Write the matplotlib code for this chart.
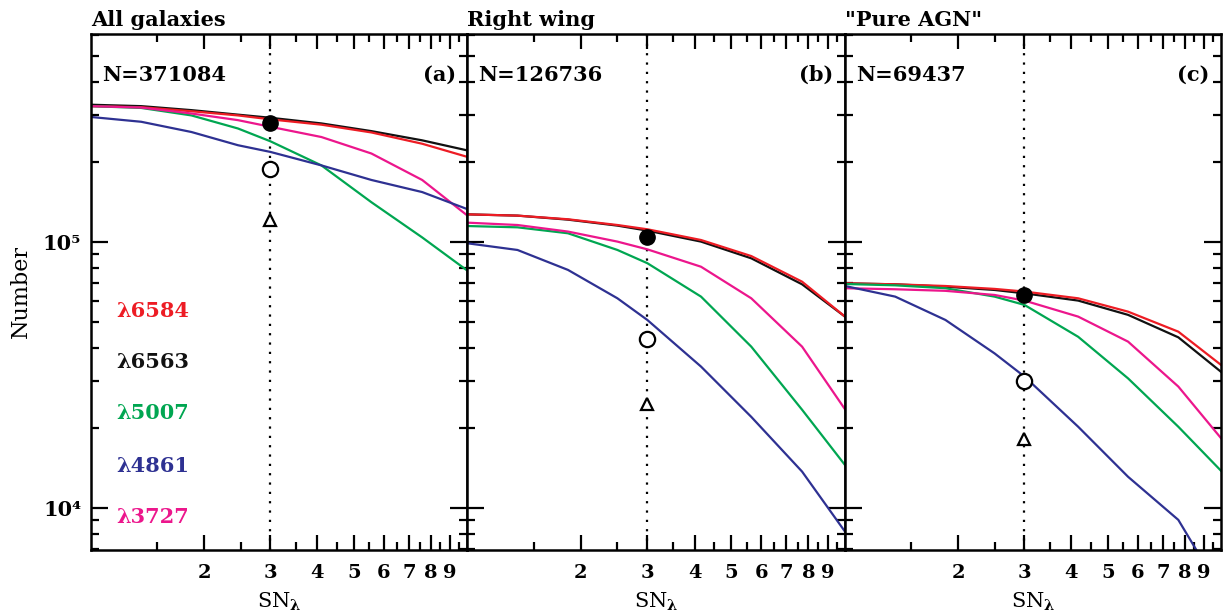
import numpy as np
import matplotlib
matplotlib.use("Agg")
import matplotlib.pyplot as plt
from matplotlib.ticker import FixedLocator, FixedFormatter, NullFormatter

plt.rcParams["font.family"] = ["DejaVu Serif"]
plt.rcParams["font.weight"] = "bold"
plt.rcParams["mathtext.fontset"] = "custom"
plt.rcParams["mathtext.rm"] = "DejaVu Serif:bold"
plt.rcParams["mathtext.it"] = "DejaVu Serif:bold"
plt.rcParams["mathtext.bf"] = "DejaVu Serif:bold"

# === Data === #
lines = ["λ6584", "λ6563", "λ5007", "λ4861", "λ3727"]
colors = ["#ed1c24", "#111111", "#00a651", "#2e3192", "#ec168c"]

titles = ["All galaxies", "Right wing", "\"Pure AGN\""]
counts = ["N=371084", "N=126736", "N=69437"]
tags = ["(a)", "(b)", "(c)"]

# panel (a)
xa = [1.0, 1.36, 1.85, 2.46, 3.0, 4.1, 5.57, 7.6, 10.0]
a_6584 = [3.24e5, 3.21e5, 3.10e5, 2.99e5, 2.89e5, 2.76e5, 2.58e5, 2.34e5, 2.09e5]
a_6563 = [3.28e5, 3.24e5, 3.13e5, 3.01e5, 2.93e5, 2.79e5, 2.61e5, 2.41e5, 2.21e5]
a_5007 = [3.24e5, 3.19e5, 2.99e5, 2.67e5, 2.39e5, 1.94e5, 1.41e5, 1.04e5, 7.82e4]
a_4861 = [2.95e5, 2.83e5, 2.59e5, 2.31e5, 2.18e5, 1.94e5, 1.71e5, 1.54e5, 1.33e5]
a_3727 = [3.24e5, 3.20e5, 3.04e5, 2.87e5, 2.71e5, 2.48e5, 2.15e5, 1.71e5, 1.26e5]

# panel (b)
xb = [1.0, 1.36, 1.85, 2.5, 3.0, 4.16, 5.65, 7.7, 10.0]
b_6584 = [1.27e5, 1.256e5, 1.217e5, 1.158e5, 1.116e5, 1.017e5, 8.85e4, 7.09e4, 5.24e4]
b_6563 = [1.27e5, 1.256e5, 1.213e5, 1.152e5, 1.103e5, 1.003e5, 8.68e4, 6.93e4, 5.24e4]
b_5007 = [1.148e5, 1.135e5, 1.078e5, 9.33e4, 8.32e4, 6.23e4, 4.04e4, 2.34e4, 1.45e4]
b_4861 = [9.89e4, 9.33e4, 7.85e4, 6.14e4, 5.09e4, 3.40e4, 2.20e4, 1.37e4, 8.15e3]
b_3727 = [1.182e5, 1.158e5, 1.094e5, 1.003e5, 9.38e4, 8.07e4, 6.14e4, 4.04e4, 2.35e4]

# panel (c)
xc = [1.0, 1.36, 1.85, 2.5, 3.0, 4.17, 5.66, 7.7, 10.0]
c_6584 = [6.99e4, 6.93e4, 6.83e4, 6.66e4, 6.51e4, 6.14e4, 5.47e4, 4.60e4, 3.45e4]
c_6563 = [6.99e4, 6.93e4, 6.79e4, 6.60e4, 6.41e4, 6.02e4, 5.32e4, 4.38e4, 3.25e4]
c_5007 = [6.95e4, 6.87e4, 6.70e4, 6.23e4, 5.80e4, 4.40e4, 3.07e4, 2.02e4, 1.38e4]
c_3727 = [6.70e4, 6.64e4, 6.55e4, 6.32e4, 6.02e4, 5.24e4, 4.22e4, 2.86e4, 1.83e4]
# blue curve leaves the frame at the bottom near SN ~ 8.6
xc_4861 = [1.0, 1.36, 1.85, 2.5, 3.0, 4.17, 5.66, 7.7, 8.6]
c_4861 = [6.83e4, 6.23e4, 5.09e4, 3.81e4, 3.12e4, 2.02e4, 1.31e4, 9.02e3, 6.95e3]

# markers at SN = 3 : filled circle, open circle, triangle
sn_cut = 3.0
filled = [2.79e5, 1.047e5, 6.32e4]
opened = [1.88e5, 4.32e4, 2.99e4]
tri = [1.21e5, 2.45e4, 1.81e4]

xs = [
    [xa] * 5,
    [xb] * 5,
    [xc, xc, xc, xc_4861, xc],
]
series = [
    [a_6584, a_6563, a_5007, a_4861, a_3727],
    [b_6584, b_6563, b_5007, b_4861, b_3727],
    [c_6584, c_6563, c_5007, c_4861, c_3727],
]

# === Plot === #
fig = plt.figure(figsize=(12.23, 6.16), dpi=100)
W, H = 1223.0, 616.0
lefts = [91, 467, 845]
widths = [376, 378, 376]
bottom, top = 550, 34

for i in range(3):
    ax = fig.add_axes([lefts[i] / W, 1 - bottom / H, widths[i] / W, (bottom - top) / H])
    ax.set_xscale("log")
    ax.set_yscale("log")
    ax.set_xlim(1.0, 10.0)
    ax.set_ylim(6950, 6.05e5)

    ax.axvline(sn_cut, color="black", lw=1.6, ls=(0, (1, 3.2)), zorder=1)

    # draw order: black first, red on top, as in the figure
    order = [1, 0, 2, 4, 3]
    for k in order:
        ax.plot(xs[i][k], series[i][k], color=colors[k], lw=1.6, zorder=2)

    ax.plot(sn_cut, filled[i], "o", ms=11, color="black", zorder=4)
    ax.plot(sn_cut, opened[i], "o", ms=11, mfc="white", mec="black", mew=1.6, zorder=4)
    ax.plot(sn_cut, tri[i], "^", ms=9, mfc="white", mec="black", mew=1.6, zorder=4)

    # ticks
    ax.xaxis.set_major_locator(FixedLocator([2, 3, 4, 5, 6, 7, 8, 9]))
    ax.xaxis.set_minor_locator(FixedLocator([1.5, 2.5, 3.5, 4.5, 5.5, 6.5, 7.5, 8.5, 9.5]))
    ax.xaxis.set_major_formatter(FixedFormatter(["2", "3", "4", "5", "6", "7", "8", "9"]))
    ax.xaxis.set_minor_formatter(NullFormatter())
    ax.yaxis.set_major_locator(FixedLocator([1e4, 1e5]))
    ax.yaxis.set_minor_locator(FixedLocator([m * d for d in (1e3, 1e4, 1e5) for m in range(2, 10)]))
    ax.yaxis.set_minor_formatter(NullFormatter())
    if i == 0:
        ax.yaxis.set_major_formatter(FixedFormatter(["10⁴", "10⁵"]))
    else:
        ax.yaxis.set_major_formatter(NullFormatter())

    ax.tick_params(which="both", direction="in", top=True, right=True, width=1.6, colors="black")
    ax.tick_params(which="major", length=11, labelsize=14, pad=10)
    ax.tick_params(which="minor", length=5.5)
    ax.tick_params(axis="y", which="major", length=12, labelsize=15, pad=7)
    for s in ax.spines.values():
        s.set_linewidth(1.8)

    ax.set_xlabel(r"SN$_\lambda$", fontsize=15, labelpad=6)

    ax.text(0.0, 1.016, titles[i], transform=ax.transAxes, fontsize=15, ha="left", va="baseline")
    ax.text(0.03, 0.92, counts[i], transform=ax.transAxes, fontsize=15, ha="left", va="center")
    ax.text(0.97, 0.92, tags[i], transform=ax.transAxes, fontsize=15, ha="right", va="center")

    if i == 0:
        ax.set_ylabel("Number", fontsize=16, labelpad=8)
        ys = [0.463, 0.364, 0.2655, 0.163, 0.064]
        for lab, c, yy in zip(lines, colors, ys):
            ax.text(0.066, yy, lab, color=c, transform=ax.transAxes, fontsize=15, ha="left", va="center")

fig.savefig("out.png", dpi=100)
